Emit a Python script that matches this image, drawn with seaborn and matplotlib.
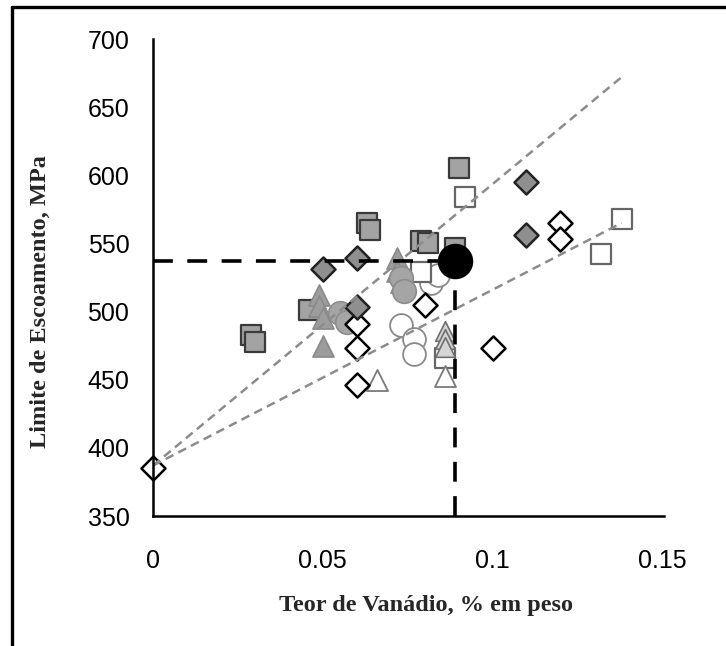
import matplotlib
matplotlib.use("Agg")
import matplotlib.pyplot as plt
import seaborn as sns

# valeurs (teor de V em %, limite de escoamento em MPa)
sq_gray_x = [0.029, 0.030, 0.046, 0.063, 0.064, 0.079, 0.081, 0.089, 0.090]
sq_gray_y = [483, 478, 501, 565, 560, 552, 550, 547, 605]
sq_open_x = [0.092, 0.138, 0.132, 0.079, 0.086]
sq_open_y = [584, 568, 542, 529, 466]

dia_gray_x = [0.050, 0.060, 0.060, 0.110, 0.110]
dia_gray_y = [531, 539, 503, 595, 556]
dia_open_x = [0.0, 0.060, 0.060, 0.060, 0.080, 0.100, 0.120, 0.120]
dia_open_y = [385, 491, 473, 446, 505, 473, 565, 553]

tri_gray_x = [0.049, 0.049, 0.050, 0.050, 0.072, 0.072, 0.073]
tri_gray_y = [512, 504, 495, 475, 539, 530, 522]
tri_light_x = [0.086, 0.086, 0.086]
tri_light_y = [486, 480, 474]
tri_open_x = [0.066, 0.086]
tri_open_y = [450, 453]

circ_gray_x = [0.055, 0.057, 0.073, 0.074]
circ_gray_y = [499, 492, 525, 515]
circ_open_x = [0.073, 0.077, 0.077, 0.082, 0.084]
circ_open_y = [490, 480, 469, 521, 527]

ref_x = [0.089]
ref_y = [537]

# droites de tendance (debut et fin)
trend_x = [0.0, 0.138]
trend_hi_y = [387, 672]
trend_lo_y = [387, 565]

sns.set_style("white")
plt.rcParams['font.family'] = ['Liberation Sans', 'DejaVu Sans']

fig = plt.figure(figsize=(7.26, 6.46), dpi=100)
ax = fig.add_axes([153 / 726, 1 - 516 / 646, 511 / 726, 477 / 646])

# droites en tirets gris
sns.lineplot(x=trend_x, y=trend_hi_y, ax=ax, color="#8c8c8c", lw=1.8)
sns.lineplot(x=trend_x, y=trend_lo_y, ax=ax, color="#8c8c8c", lw=1.8)
for ln in ax.lines:
    ln.set_dashes((3.5, 2.2))

# points
opts = dict(ax=ax, clip_on=False, legend=False)
sns.scatterplot(x=circ_open_x, y=circ_open_y, marker="o", s=270, color="white", edgecolor="#8a8a8a", linewidth=1.3, **opts)
sns.scatterplot(x=sq_open_x, y=sq_open_y, marker="s", s=210, color="white", edgecolor="#666666", linewidth=1.6, **opts)
sns.scatterplot(x=sq_gray_x, y=sq_gray_y, marker="s", s=210, color="#a3a3a3", edgecolor="#3a3a3a", linewidth=1.6, **opts)
sns.scatterplot(x=tri_open_x, y=tri_open_y, marker="^", s=230, color="white", edgecolor="#7a7a7a", linewidth=1.3, **opts)
sns.scatterplot(x=tri_light_x, y=tri_light_y, marker="^", s=200, color="#d5d5d5", edgecolor="#6f6f6f", linewidth=1.2, **opts)
sns.scatterplot(x=tri_gray_x, y=tri_gray_y, marker="^", s=230, color="#9c9c9c", edgecolor="#8a8a8a", linewidth=1.2, **opts)
sns.scatterplot(x=circ_gray_x, y=circ_gray_y, marker="o", s=290, color="#a5a5a5", edgecolor="#8c8c8c", linewidth=1.2, **opts)
sns.scatterplot(x=dia_open_x, y=dia_open_y, marker="D", s=150, color="white", edgecolor="black", linewidth=1.8, **opts)
sns.scatterplot(x=dia_gray_x, y=dia_gray_y, marker="D", s=150, color="#8f8f8f", edgecolor="#222222", linewidth=1.8, **opts)

# point de reference et tirets noirs
ax.plot([0, ref_x[0]], [ref_y[0], ref_y[0]], color="black", lw=2.6, dashes=(5.5, 4))
ax.plot([ref_x[0], ref_x[0]], [350, ref_y[0]], color="black", lw=2.6, dashes=(5.5, 4))
sns.scatterplot(x=ref_x, y=ref_y, ax=ax, marker="o", s=560, color="black", edgecolor="black", zorder=5, legend=False)

ax.set_xlim(0, 0.1505)
ax.set_ylim(350, 700)
ax.set_xticks([0, 0.05, 0.1, 0.15])
ax.set_xticklabels(["0", "0.05", "0.1", "0.15"])
ax.set_yticks(range(350, 701, 50))
ax.tick_params(direction="in", length=6, width=1.8, colors="black", labelsize=18)
ax.tick_params(axis="x", pad=24)
ax.tick_params(axis="y", pad=17)
for side in ["top", "right"]:
    ax.spines[side].set_visible(False)
for side in ["left", "bottom"]:
    ax.spines[side].set_linewidth(1.8)
    ax.spines[side].set_color("black")
ax.set_xlabel("")
ax.set_ylabel("")

fig.text(426 / 726, 1 - 605 / 646, "Teor de Vanádio, % em peso", family="Liberation Serif",
         weight="bold", fontsize=17.5, ha="center", va="center")
fig.text(40 / 726, 1 - 302 / 646, "Limite de Escoamento, MPa", family="Liberation Serif",
         weight="bold", fontsize=17.5, ha="center", va="center", rotation=90)

# cadre de l'image (haut et gauche)
fig.add_artist(plt.Line2D([12 / 726, 12 / 726], [0, 1 - 7 / 646], color="black", lw=2.4, transform=fig.transFigure))
fig.add_artist(plt.Line2D([12 / 726, 1], [1 - 7 / 646, 1 - 7 / 646], color="black", lw=2.4, transform=fig.transFigure))

fig.savefig("out.png", dpi=100)
